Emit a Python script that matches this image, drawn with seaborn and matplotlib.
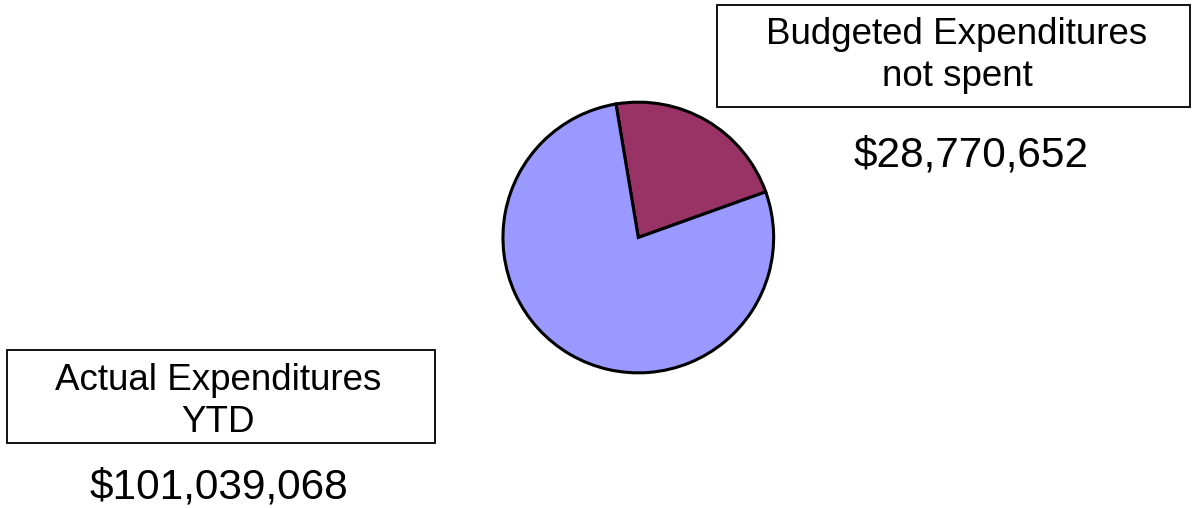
import matplotlib
matplotlib.use("Agg")
import matplotlib.pyplot as plt
import seaborn as sns
from matplotlib.patches import Rectangle

categories = ["Budgeted Expenditures\nnot spent", "Actual Expenditures\nYTD"]
values = [28770652, 101039068]
colors = ["#993366", "#9999FF"]

sns.set_theme(style="white")
plt.rcParams['font.family'] = ['Liberation Sans', 'DejaVu Sans']

W, H = 1193, 508
fig = plt.figure(figsize=(W / 100, H / 100), dpi=100)
fig.patch.set_facecolor("white")

def fx(x):
    return x / W

def fy(y):
    return 1 - y / H

# pie axes
cx, cy, r = 638.3, 237.5, 136.7
ax = fig.add_axes([fx(cx - r), fy(cy + r), 2 * r / W, 2 * r / H])
ax.pie(values, colors=colors, startangle=99.5, counterclock=False,
       wedgeprops=dict(edgecolor="black", linewidth=2.2))
ax.set_xlim(-1.01, 1.01)
ax.set_ylim(-1.01, 1.01)
ax.set_aspect("equal")
ax.axis("off")

def box(x0, y0, x1, y1):
    fig.patches.append(Rectangle((fx(x0), fy(y1)), fx(x1) - fx(x0), fy(y0) - fy(y1),
                                 transform=fig.transFigure, fill=False,
                                 edgecolor="black", linewidth=1.3))

label_fs = 26.5
value_fs = 30.5

# Budgeted box
box(716.5, 4.5, 1190, 107)
l1, l2 = categories[0].split("\n")
fig.text(fx(957), fy(43.5), l1, ha="center", va="baseline", fontsize=label_fs, color="black")
fig.text(fx(957), fy(86), l2, ha="center", va="baseline", fontsize=label_fs, color="black")
fig.text(fx(971), fy(166), f"${values[0]:,}", ha="center", va="baseline", fontsize=value_fs, color="black")

# Actual box
box(7, 350, 435, 442.5)
a1, a2 = categories[1].split("\n")
fig.text(fx(218), fy(390), a1, ha="center", va="baseline", fontsize=label_fs, color="black")
fig.text(fx(218), fy(432), a2, ha="center", va="baseline", fontsize=label_fs, color="black")
fig.text(fx(219), fy(498), f"${values[1]:,}", ha="center", va="baseline", fontsize=value_fs, color="black")

fig.savefig("out.png", dpi=100, facecolor="white")
